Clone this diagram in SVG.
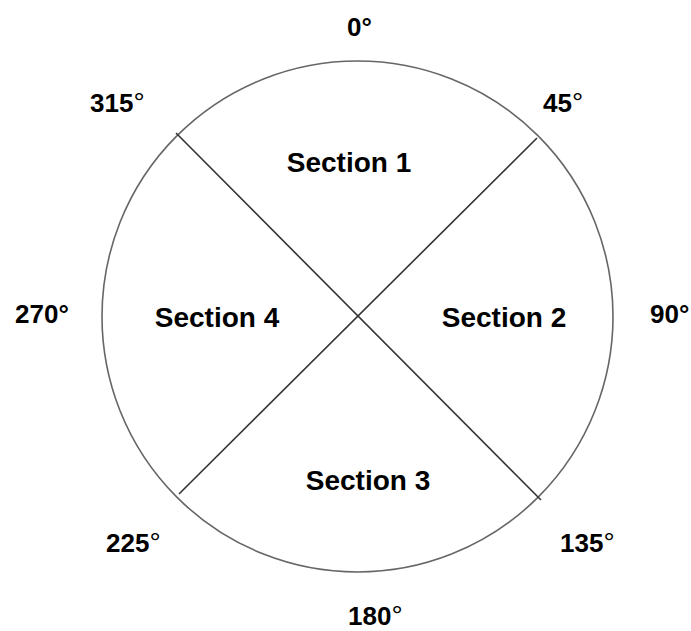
<svg xmlns="http://www.w3.org/2000/svg" width="691" height="631" viewBox="0 0 691 631">
<style>
.lbl{font-family:"Liberation Sans",Arial,sans-serif;font-weight:bold;font-size:26px;fill:#000}
.sec{font-family:"Liberation Sans",Arial,sans-serif;font-weight:bold;font-size:28px;fill:#000;text-anchor:middle}
.ring{font-weight:normal;font-size:28px}
</style>
<rect width="691" height="631" fill="#fff"/>
<g id="circle"><circle cx="357.5" cy="316.5" r="255.5" fill="none" stroke="#666" stroke-width="1.6"/></g>
<g id="connectors" stroke="#333" stroke-width="1.6">
<line x1="176" y1="133" x2="541" y2="500"/>
<line x1="537" y1="138" x2="179" y2="494"/>
</g>
<g id="angles">
<text class="lbl" x="347" y="36">0°</text>
<text class="lbl" x="90" y="112">315<tspan class="ring">°</tspan></text>
<text class="lbl" x="543" y="112">45<tspan class="ring">°</tspan></text>
<text class="lbl" x="15" y="323">270°</text>
<text class="lbl" x="650" y="323">90°</text>
<text class="lbl" x="106" y="552">225<tspan class="ring">°</tspan></text>
<text class="lbl" x="560" y="552">135<tspan class="ring">°</tspan></text>
<text class="lbl" x="348" y="625">180<tspan class="ring">°</tspan></text>
</g>
<g id="section1"><text class="sec" x="349" y="172">Section 1</text></g>
<g id="section2"><text class="sec" x="504" y="327">Section 2</text></g>
<g id="section3"><text class="sec" x="368" y="490">Section 3</text></g>
<g id="section4"><text class="sec" x="217" y="327">Section 4</text></g>
</svg>
